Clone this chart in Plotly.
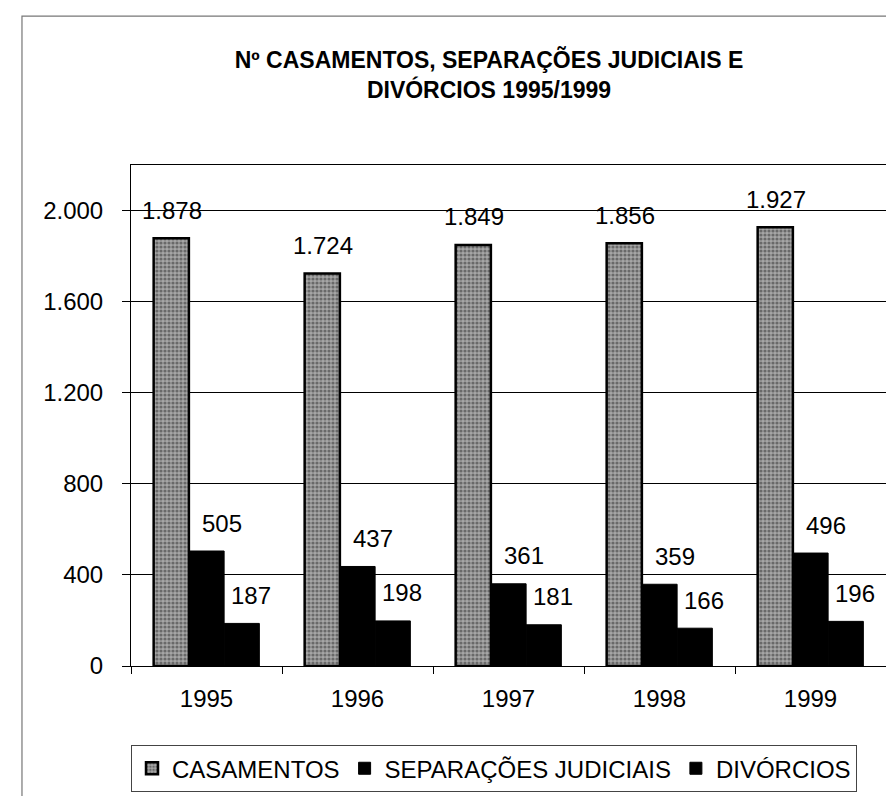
import plotly.graph_objects as go

# dados do gráfico
anos = ["1995", "1996", "1997", "1998", "1999"]
casamentos = [1878, 1724, 1849, 1856, 1927]
separacoes = [505, 437, 361, 359, 496]
divorcios = [187, 198, 181, 166, 196]

nomes = ["CASAMENTOS", "SEPARAÇÕES JUDICIAIS", "DIVÓRCIOS"]
y_ticks = [0, 400, 800, 1200, 1600, 2000]

FONTE = "Arial, Liberation Sans, sans-serif"


def fmt(v):
    # separador de milhares português
    return f"{v:,}".replace(",", ".")


fig = go.Figure()

fig.add_trace(go.Bar(
    x=anos, y=casamentos, name=nomes[0],
    marker=dict(
        color="#808080",
        line=dict(color="black", width=2.5),
        pattern=dict(shape=".", bgcolor="#a6a6a6", fgcolor="#2c2c2c",
                     size=4, solidity=0.5),
    ),
))
fig.add_trace(go.Bar(
    x=anos, y=separacoes, name=nomes[1],
    marker=dict(color="black", line=dict(color="black", width=1)),
))
fig.add_trace(go.Bar(
    x=anos, y=divorcios, name=nomes[2],
    marker=dict(color="black", line=dict(color="black", width=1)),
))

# rótulos de dados (deslocados como no original)
deslocamentos = [-35, 15, 44]
for serie, dx in zip([casamentos, separacoes, divorcios], deslocamentos):
    for i, v in enumerate(serie):
        fig.add_annotation(
            x=i, y=v, text=fmt(v), showarrow=False,
            xshift=dx, yshift=28, yanchor="middle",
            font=dict(size=24, color="black", family=FONTE),
        )

# moldura exterior do gráfico
fig.add_shape(type="rect", xref="paper", yref="paper",
              x0=-0.1444, x1=1.04, y0=-0.3, y1=1.297,
              line=dict(color="#777", width=1.2), layer="below")

fig.update_layout(
    width=894, height=796,
    margin=dict(l=123, r=16, t=157, b=138),
    paper_bgcolor="white", plot_bgcolor="white",
    separators=",.",
    font=dict(family=FONTE, size=24, color="black"),
    title=dict(
        text="<b>Nº CASAMENTOS, SEPARAÇÕES JUDICIAIS E<br>DIVÓRCIOS 1995/1999</b>",
        font=dict(size=23, color="black", family=FONTE),
        x=0.538, xanchor="center", xref="container",
        y=0.925, yanchor="top", yref="container",
    ),
    barmode="group", bargap=0.3, bargroupgap=0,
    showlegend=True,
    legend=dict(
        orientation="h", x=0, xanchor="left", y=-0.158, yanchor="top",
        bordercolor="#444", borderwidth=1,
        font=dict(size=24, family=FONTE),
        itemwidth=30, traceorder="normal",
    ),
    xaxis=dict(
        type="category", range=[-0.5, 4.5], showgrid=False,
        showline=True, linecolor="black", linewidth=1, mirror=True,
        ticks="outside", tickson="boundaries", ticklen=7, tickcolor="black",
        ticklabelstandoff=11, tickangle=0,
        tickfont=dict(size=24),
    ),
    yaxis=dict(
        range=[0, 2200], tickvals=y_ticks, tickformat=",d",
        showgrid=True, gridcolor="black", gridwidth=1,
        showline=True, linecolor="black", linewidth=1, mirror=True,
        ticks="outside", ticklen=8, tickcolor="black",
        ticklabelstandoff=14,
        tickfont=dict(size=24), zeroline=False,
    ),
)

fig.write_html("out.html")
